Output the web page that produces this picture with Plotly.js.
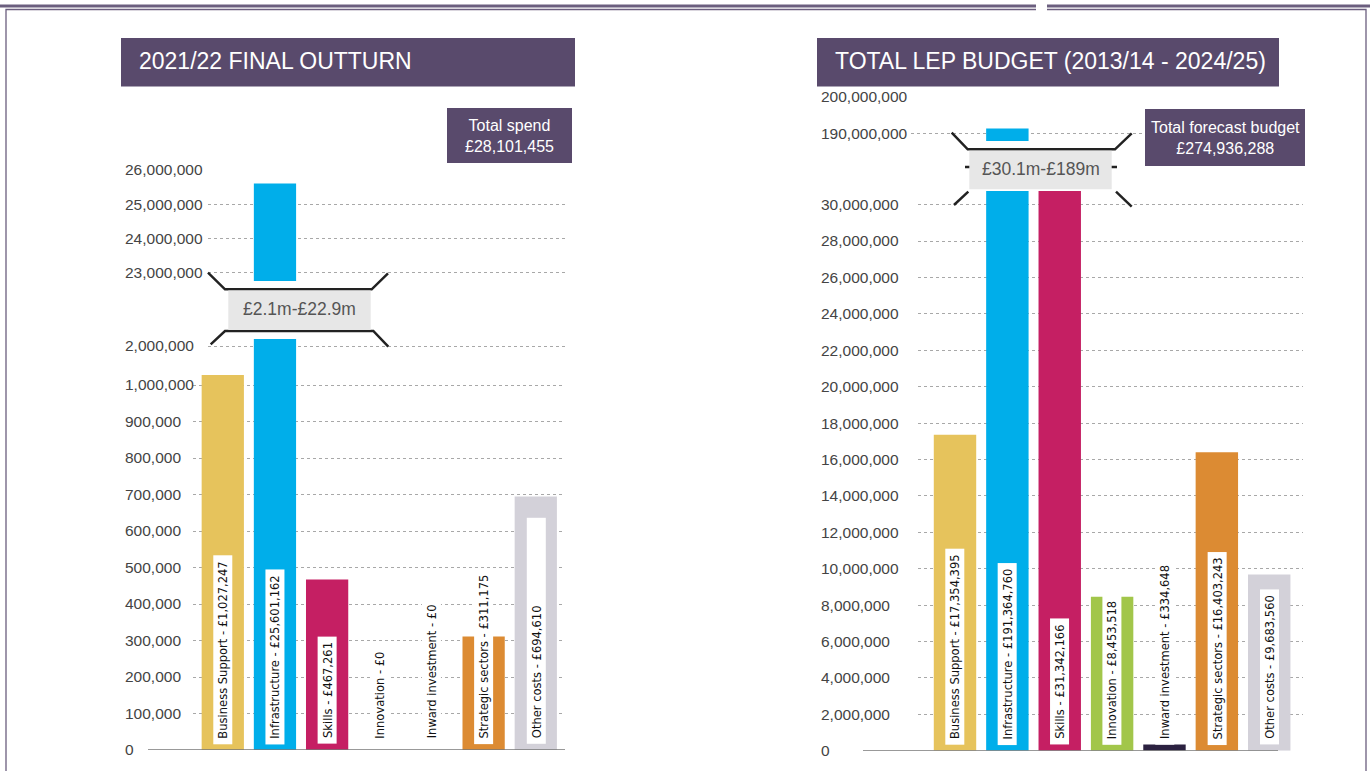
<!DOCTYPE html>
<html>
<head>
<meta charset="utf-8">
<script src="https://cdn.plot.ly/plotly-3.0.1.min.js"></script>
<style>html,body{margin:0;padding:0;background:#fff;}#chart{width:1370px;height:771px;}</style>
</head>
<body>
<div id="chart"></div>
<script>
// ---------- data ----------
const categories = ["Business Support","Infrastructure","Skills","Innovation","Inward investment","Strategic sectors","Other costs"];
const outturn2122 = [1027247, 25601162, 467261, 0, 0, 311175, 694610];
const totalBudget = [17354395, 191364760, 31342166, 8453518, 334648, 16403243, 9683560];
const barColors = ["#E6C35C","#00AEEA","#C51F63","#A2C64A","#2B2140","#DC8B33","#D3D1D9"];

const leftLowerTicks = [0,100000,200000,300000,400000,500000,600000,700000,800000,900000,1000000];
const leftMidTicks = [2000000];
const leftUpperTicks = [23000000,24000000,25000000,26000000];
const rightLowerTicks = [0,2000000,4000000,6000000,8000000,10000000,12000000,14000000,16000000,18000000,20000000,22000000,24000000,26000000,28000000,30000000];
const rightUpperTicks = [190000000,200000000];
const rightUpperGrid = [190000000];

const leftTitle = "2021/22 FINAL OUTTURN";
const rightTitle = "TOTAL LEP BUDGET (2013/14 - 2024/25)";
const leftTotal = ["Total spend","£28,101,455"];
const rightTotal = ["Total forecast budget","£274,936,288"];
const leftBreakLabel = "£2.1m-£22.9m";
const rightBreakLabel = "£30.1m-£189m";

// ---------- helpers ----------
const W = 1370, H = 771;
const X = px => px / W;
const Y = py => 1 - py / H;
const fmt = v => String(v).replace(/\B(?=(\d{3})+(?!\d))/g, ",");
const P = pts => pts.map((p,i)=>(i?"L":"M")+X(p[0]).toFixed(5)+","+Y(p[1]).toFixed(5)).join(" ");

const PURPLE = "#594a6c";
const tickFont = {family:"Liberation Sans, Arial, sans-serif", size:15.5, color:"#444"};
const labelFont = {family:"DejaVu Sans Condensed, Liberation Sans Narrow, sans-serif", size:12.8, color:"#111"};

function bar(xa, ya, vals){
  return {type:"bar", x:categories, y:vals, xaxis:xa, yaxis:ya,
          marker:{color:barColors, line:{width:0}}, hoverinfo:"skip", showlegend:false};
}
const traces = [
  bar("x","y",outturn2122),
  bar("x2","y2",outturn2122),
  bar("x2","y3",outturn2122),
  bar("x3","y4",totalBudget),
  bar("x4","y5",totalBudget)
];

const xBase = {type:"category", showticklabels:false, showgrid:false, zeroline:false, showline:false, ticks:"", fixedrange:true};
const yBase = {anchor:"free", side:"right", showline:false, zeroline:false, ticks:"", tickformat:",d",
               tickmode:"array", showgrid:true, gridcolor:"#a8a8a8", gridwidth:1, griddash:"dot",
               tickfont:tickFont, fixedrange:true};

const layout = {
  width:W, height:H, margin:{l:0,r:0,t:0,b:0}, paper_bgcolor:"#fff", plot_bgcolor:"rgba(0,0,0,0)",
  bargap:0.19, showlegend:false,
  xaxis: Object.assign({}, xBase, {domain:[X(193),X(565)], range:[-0.571,6.56], anchor:"y"}),
  xaxis2:Object.assign({}, xBase, {domain:[X(208),X(565)], range:[-0.284,6.56], anchor:"y3"}),
  xaxis3:Object.assign({}, xBase, {domain:[X(918),X(1303)], range:[-0.7065,6.645], anchor:"y4"}),
  xaxis4:Object.assign({}, xBase, {domain:[X(911),X(1303)], range:[-0.840,6.645], anchor:"y5"}),
  yaxis: Object.assign({}, yBase, {domain:[Y(750),Y(360)], range:[0,1068493], position:X(124), tickvals:leftLowerTicks}),
  yaxis2:Object.assign({}, yBase, {domain:[Y(360),Y(339)], range:[1960000,2020000], position:X(124), tickvals:leftMidTicks}),
  yaxis3:Object.assign({}, yBase, {domain:[Y(281),Y(170)], range:[22750000,26000000], position:X(124), tickvals:leftUpperTicks}),
  yaxis4:Object.assign({}, yBase, {domain:[Y(750.7),Y(191)], range:[0,30750000], position:X(820), tickvals:rightLowerTicks}),
  yaxis5:Object.assign({}, yBase, {domain:[Y(141),Y(97)], range:[187900000,200000000], position:X(820), tickvals:rightUpperTicks,
          showgrid:false, minor:{tickmode:"array", tickvals:rightUpperGrid, showgrid:true, gridcolor:"#a8a8a8", gridwidth:1, griddash:"dot", ticks:""}}),
  shapes:[], annotations:[]
};

const S = layout.shapes, A = layout.annotations;
const rectPx = (x0,y0,x1,y1,fill) => S.push({type:"rect", xref:"paper", yref:"paper", x0:X(x0), x1:X(x1), y0:Y(y1), y1:Y(y0), fillcolor:fill, line:{width:0}, layer:"above"});
const pathPx = (pts,color,width) => S.push({type:"path", xref:"paper", yref:"paper", path:P(pts), line:{color:color, width:width}, layer:"above"});

// page frame
pathPx([[0,6],[1036,6]], "#6b5e7e", 3);
pathPx([[1047,6],[1370,6]], "#6b5e7e", 3);
pathPx([[6,771],[6,9.5],[1036,9.5]], "#6b5e7e", 1.3);
pathPx([[1047,9.5],[1366,9.5],[1366,771]], "#6b5e7e", 1.3);

// baselines
S.push({type:"line", xref:"paper", yref:"y", x0:X(148), x1:X(565), y0:0, y1:0, line:{color:"#777", width:1.5}, layer:"above"});
S.push({type:"line", xref:"paper", yref:"y4", x0:X(863), x1:X(1278), y0:0, y1:0, line:{color:"#777", width:1.5}, layer:"above"});

// title boxes
rectPx(121,38,575,86.5,PURPLE);
rectPx(817,38,1279,86.5,PURPLE);
rectPx(447,108,572,163,PURPLE);
rectPx(1145,109,1305,166,PURPLE);

// left break marker
pathPx([[208,272.7],[225,289.3],[371.7,289.3],[388,273.3]], "#222", 2.5);
pathPx([[210.7,344.3],[225,331],[373.3,331],[388.3,346.7]], "#222", 2.5);
rectPx(228.3,290.5,370.7,330,"#e7e7e7");
// right break marker
pathPx([[951.7,132.7],[967.7,149.3],[1115,149.3],[1131.7,133.3]], "#222", 2.5);
pathPx([[954,205],[968.3,191.7]], "#222", 2.5);
pathPx([[1116,191.7],[1131.7,206.7]], "#222", 2.5);
pathPx([[965,167],[1117,167]], "#222", 2.5);
rectPx(969.3,150.7,1111.7,189.3,"#e7e7e7");

// texts
const txt = (xpx, ypx, text, size, color, xanchor, family) => A.push({xref:"paper", yref:"paper", x:X(xpx), y:Y(ypx), xanchor:xanchor||"center", yanchor:"middle",
  text:text, showarrow:false, font:{family:family||"Liberation Sans, Arial, sans-serif", size:size, color:color}});
txt(137, 61, leftTitle, 23, "#fff", "left");
txt(833, 61, rightTitle, 23, "#fff", "left");
txt(509.5, 135.5, leftTotal.join("<br>"), 16, "#fff");
txt(1225, 137.5, rightTotal.join("<br>"), 16, "#fff");
txt(299.5, 309, leftBreakLabel, 17.5, "#555");
txt(1040.5, 169, rightBreakLabel, 17.5, "#555");

// bar labels
function barLabels(xref, yref, vals, special){
  vals.forEach((v,i) => {
    const a = {xref:xref, yref:yref, x:i, y:0, xanchor:"center", yanchor:"bottom", yshift:6, textangle:-90,
      text:"\u00a0" + categories[i] + " - £" + fmt(v) + "\u00a0", showarrow:false, bgcolor:"#fff", borderpad:2, borderwidth:0,
      font:labelFont};
    if (special && special[i]) { a.width = special[i]; a.align = "left"; }
    A.push(a);
  });
}
barLabels("x","y",outturn2122,{6:222});
barLabels("x3","y4",totalBudget,null);

Plotly.newPlot("chart", traces, layout, {staticPlot:true, displayModeBar:false});
</script>
</body>
</html>
